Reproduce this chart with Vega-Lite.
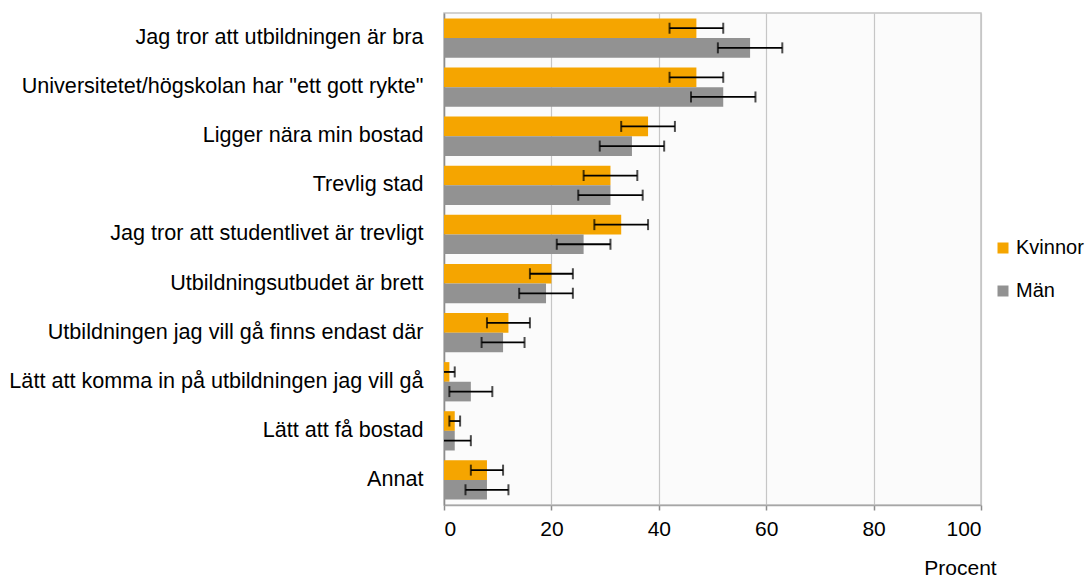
{
  "$schema": "https://vega.github.io/schema/vega-lite/v6.json",
  "width": 537,
  "height": 492,
  "autosize": {"type": "none"},
  "padding": {"left": 444, "top": 13, "right": 104, "bottom": 73},
  "background": "white",
  "config": {
    "font": "Liberation Sans",
    "view": {"fill": "#fbfbfb", "stroke": "#c4c4c4", "strokeWidth": 1.5},
    "axis": {"labelFont": "Liberation Sans", "labelFontSize": 21, "labelColor": "#000000", "titleFont": "Liberation Sans", "titleColor": "#000000"}
  },
  "data": {
    "values": [
      {"cat": "Jag tror att utbildningen är bra", "group": "Kvinnor", "value": 47, "lo": 42, "hi": 52},
      {"cat": "Jag tror att utbildningen är bra", "group": "Män", "value": 57, "lo": 51, "hi": 63},
      {"cat": "Universitetet/högskolan har \"ett gott rykte\"", "group": "Kvinnor", "value": 47, "lo": 42, "hi": 52},
      {"cat": "Universitetet/högskolan har \"ett gott rykte\"", "group": "Män", "value": 52, "lo": 46, "hi": 58},
      {"cat": "Ligger nära min bostad", "group": "Kvinnor", "value": 38, "lo": 33, "hi": 43},
      {"cat": "Ligger nära min bostad", "group": "Män", "value": 35, "lo": 29, "hi": 41},
      {"cat": "Trevlig stad", "group": "Kvinnor", "value": 31, "lo": 26, "hi": 36},
      {"cat": "Trevlig stad", "group": "Män", "value": 31, "lo": 25, "hi": 37},
      {"cat": "Jag tror att studentlivet är trevligt", "group": "Kvinnor", "value": 33, "lo": 28, "hi": 38},
      {"cat": "Jag tror att studentlivet är trevligt", "group": "Män", "value": 26, "lo": 21, "hi": 31},
      {"cat": "Utbildningsutbudet är brett", "group": "Kvinnor", "value": 20, "lo": 16, "hi": 24},
      {"cat": "Utbildningsutbudet är brett", "group": "Män", "value": 19, "lo": 14, "hi": 24},
      {"cat": "Utbildningen jag vill gå finns endast där", "group": "Kvinnor", "value": 12, "lo": 8, "hi": 16},
      {"cat": "Utbildningen jag vill gå finns endast där", "group": "Män", "value": 11, "lo": 7, "hi": 15},
      {"cat": "Lätt att komma in på utbildningen jag vill gå", "group": "Kvinnor", "value": 1, "lo": -0.6, "hi": 2},
      {"cat": "Lätt att komma in på utbildningen jag vill gå", "group": "Män", "value": 5, "lo": 1, "hi": 9},
      {"cat": "Lätt att få bostad", "group": "Kvinnor", "value": 2, "lo": 1, "hi": 3},
      {"cat": "Lätt att få bostad", "group": "Män", "value": 2, "lo": -1, "hi": 5},
      {"cat": "Annat", "group": "Kvinnor", "value": 8, "lo": 5, "hi": 11},
      {"cat": "Annat", "group": "Män", "value": 8, "lo": 4, "hi": 12}
    ]
  },
  "encoding": {
    "y": {
      "field": "cat",
      "type": "nominal",
      "sort": null,
      "scale": {"paddingInner": 0.2, "paddingOuter": 0.11},
      "axis": {"title": null, "ticks": false, "labelPadding": 21, "labelLimit": 0, "labelFontSize": 21.6, "domainColor": "#8c8c8c", "domainWidth": 1.5, "grid": false}
    },
    "yOffset": {"field": "group", "type": "nominal", "sort": ["Kvinnor", "Män"], "scale": {"paddingInner": 0, "paddingOuter": 0}}
  },
  "layer": [
    {
      "mark": {"type": "bar"},
      "encoding": {
        "x": {
          "field": "value",
          "type": "quantitative",
          "scale": {"domain": [0, 100], "nice": false},
          "axis": {
            "values": [0, 20, 40, 60, 80, 100],
            "title": "Procent",
            "titleFontSize": 21,
            "titleFontWeight": "normal",
            "titleX": 516,
            "titleY": 69,
            "titleAlign": "center",
            "titleBaseline": "alphabetic",
            "labelPadding": 8,
            "tickSize": 5,
            "tickColor": "#8c8c8c",
            "tickWidth": 1.5,
            "domainColor": "#a6a6a6",
            "domainWidth": 1.5,
            "grid": true,
            "gridColor": "#c6c6c6",
            "gridWidth": 1.2
          }
        },
        "color": {
          "field": "group",
          "type": "nominal",
          "scale": {"domain": ["Kvinnor", "Män"], "range": ["#F5A500", "#929292"]},
          "legend": {
            "title": null,
            "orient": "none",
            "legendX": 549,
            "legendY": 225,
            "symbolType": "square",
            "symbolSize": 121,
            "symbolStrokeWidth": 0,
            "labelFontSize": 20,
            "labelFont": "Liberation Sans",
            "labelColor": "#000000",
            "labelOffset": 3,
            "rowPadding": 23,
            "padding": 0
          }
        }
      }
    },
    {
      "mark": {"type": "rule", "color": "#000000", "strokeWidth": 1.8, "clip": true},
      "encoding": {
        "x": {"field": "lo", "type": "quantitative"},
        "x2": {"field": "hi"}
      }
    },
    {
      "mark": {"type": "tick", "color": "#000000", "thickness": 2, "size": 11, "clip": true},
      "encoding": {
        "x": {"field": "lo", "type": "quantitative"}
      }
    },
    {
      "mark": {"type": "tick", "color": "#000000", "thickness": 2, "size": 11, "clip": true},
      "encoding": {
        "x": {"field": "hi", "type": "quantitative"}
      }
    }
  ]
}
